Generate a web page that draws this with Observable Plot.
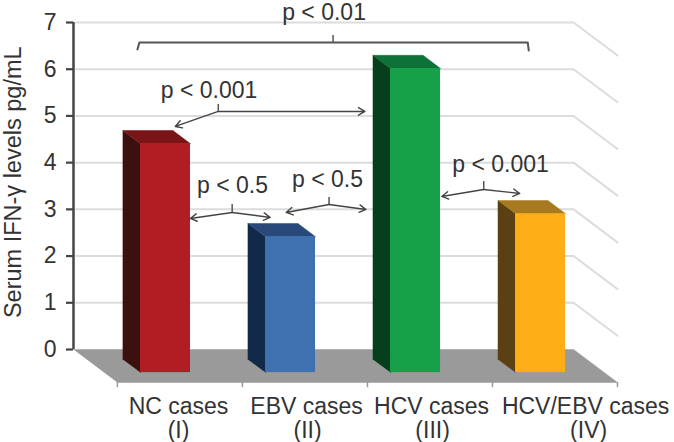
<!DOCTYPE html>
<html><head><meta charset="utf-8">
<script src="https://cdn.jsdelivr.net/npm/d3@7"></script>
<script src="https://cdn.jsdelivr.net/npm/@observablehq/plot@0.6"></script>
<style>html,body{margin:0;padding:0;background:#fff}svg{display:block}</style>
</head><body><div id="chart"></div>
<script>
const categories = ["NC cases", "EBV cases", "HCV cases", "HCV/EBV cases"];
const romans = ["(I)", "(II)", "(III)", "(IV)"];
const labelX = [0.84, 1.864, 2.864, 4.096];
const romanX = [0.84, 1.872, 2.872, 4.12];
const values = [4.9, 2.91, 6.51, 3.4];
const frontColors = ["#b11d23", "#3f70af", "#16a04a", "#fdae17"];
const sideColors = ["#3d1010", "#13294a", "#063f1c", "#5a4013"];
const topColors = ["#7a1416", "#28497a", "#0e7138", "#a87a1f"];
const yTicks = [0, 1, 2, 3, 4, 5, 6, 7];

// Oblique depth of the floor, in axis units (category slots, IFN-γ units)
const depthX = 0.351, depthY = 0.707;
const barLeft = 0.29, barRight = 0.69, barFront = 0.7, barBack = 0.3;
const P = (x, v, d) => ({x: x + d * depthX, y: v - d * depthY});

// Significance annotations, in axis units
const pTexts = ["p < 0.01", "p < 0.001", "p < 0.5", "p < 0.5", "p < 0.001"];
const pTextX = [2.004, 1.084, 1.272, 2.032, 3.416];
const pTextY = [7.21, 5.55, 3.51, 3.64, 3.95];
const bracket = [[0.511, 6.424], [0.527, 6.574], [3.633, 6.574], [3.641, 6.403]];
const stems = [[2.076, 6.574, 6.724], [1.158, 5.096, 5.246], [1.269, 2.934, 3.105], [2.044, 3.105, 3.255], [3.281, 3.426, 3.597]];
const arrows = [
  [1.158, 5.096, 0.814, 4.775], [1.158, 5.096, 2.331, 5.096],
  [1.269, 2.934, 0.934, 2.805], [1.269, 2.934, 1.573, 2.827],
  [2.044, 3.105, 1.701, 2.934], [2.044, 3.105, 2.339, 2.998],
  [3.281, 3.426, 2.946, 3.276], [3.281, 3.426, 3.569, 3.340]
];

const font = "Liberation Sans, Arial, sans-serif";
const ink = "#333";
const xDomainMax = 4 + depthX;

const poly = (pts, color) => Plot.line(pts, {x: "x", y: "y", fill: color, stroke: color, strokeWidth: 0.5});

const gridMarks = yTicks.filter(t => t > 0).map(t =>
  Plot.line([P(0.02, t, 0), P(4, t, 0), P(4, t, 1)], {x: "x", y: "y", stroke: "#dcdcdc", strokeWidth: 2}));

const floor = poly([P(0, 0, 0), P(4, 0, 0), P(4, 0, 1), P(0, 0, 1)], "#9a9a9a");

const barMarks = values.flatMap((v, i) => {
  const l = i + barLeft, r = i + barRight;
  return [
    poly([P(l, 0, barFront), P(l, v, barFront), P(l, v, barBack), P(l, 0, barBack)], sideColors[i]),
    poly([P(l, v, barFront), P(r, v, barFront), P(r, v, barBack), P(l, v, barBack)], topColors[i]),
    Plot.rect([v], {
      x1: P(l, 0, barFront).x, x2: P(r, 0, barFront).x,
      y1: P(l, 0, barFront).y, y2: d => P(l, d, barFront).y,
      fill: frontColors[i]
    })
  ];
});

const plot = Plot.plot({
  width: 674, height: 442,
  marginLeft: 73, marginRight: 57, marginTop: 22, marginBottom: 93,
  style: {fontFamily: font, background: "#fff"},
  x: {domain: [0, xDomainMax], axis: null},
  y: {domain: [0, 7], axis: null},
  marks: [
    ...gridMarks,
    floor,
    Plot.ruleX([0, 1, 2, 3, 4], {x: d => P(d, 0, 1).x, y1: -depthY, y2: -depthY - 0.11, stroke: "#999", strokeWidth: 1.5}),
    Plot.axisY({ticks: yTicks, tickSize: 7, tickPadding: 10, label: null, fontSize: 23, stroke: "#444", strokeWidth: 2.2, color: ink, tickFormat: d => String(d)}),
    Plot.ruleX([0], {y1: 0, y2: 7, stroke: "#444", strokeWidth: 2.5}),
    ...barMarks,
    Plot.line(bracket.map(([x, y]) => ({x, y})), {x: "x", y: "y", stroke: "#555", strokeWidth: 2}),
    Plot.ruleX(stems, {x: d => d[0], y1: d => d[1], y2: d => d[2], stroke: "#555", strokeWidth: 1.5}),
    Plot.arrow(arrows, {x1: d => d[0], y1: d => d[1], x2: d => d[2], y2: d => d[3], bend: 0, headLength: 8, stroke: "#444", strokeWidth: 1.4}),
    Plot.text(pTexts, {x: (d, i) => pTextX[i], y: (d, i) => pTextY[i], text: d => d, fontSize: 23, fill: ink, textAnchor: "middle"}),
    Plot.text(categories, {x: (d, i) => labelX[i], y: -1.22, text: d => d, fontSize: 23, fill: ink, textAnchor: "middle"}),
    Plot.text(romans, {x: (d, i) => romanX[i], y: -1.74, text: d => d, fontSize: 23, fill: ink, textAnchor: "middle"}),
    Plot.text(["Serum IFN-γ levels pg/mL"], {x: -0.48, y: 3.58, text: d => d, rotate: -90, fontSize: 23.5, fill: ink, textAnchor: "middle"})
  ]
});
document.getElementById("chart").append(plot);
</script></body></html>
